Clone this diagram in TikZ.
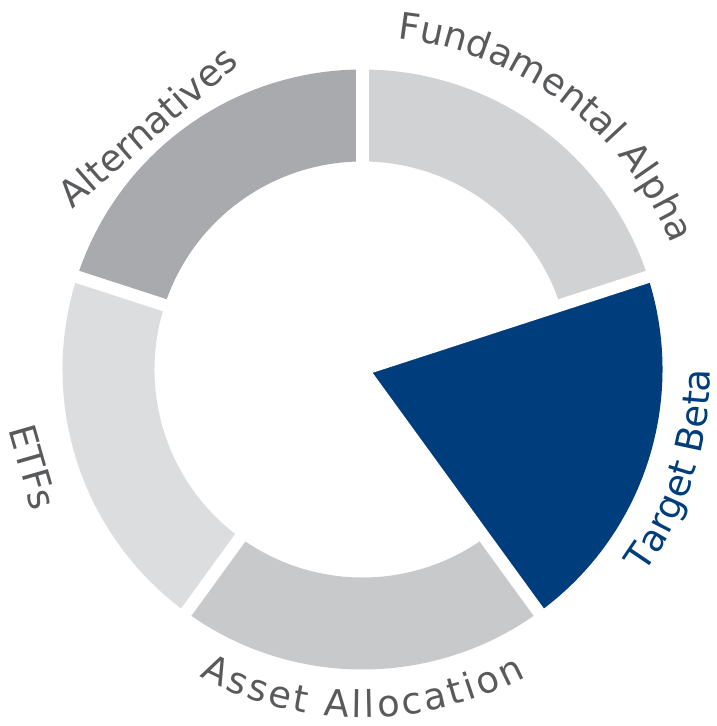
\documentclass[tikz,border=0pt]{standalone}
\usepackage{fontspec}
\usepackage{xcolor}
\usepackage{tikz}
\usetikzlibrary{decorations.text}
\newfontfamily\chartfont{DejaVu Sans}
\definecolor{navy}{HTML}{003D7C}
\definecolor{txtgray}{HTML}{595A5C}
\definecolor{alphagray}{HTML}{D1D2D4}
\definecolor{altgray}{HTML}{A9AAAD}
\definecolor{etfgray}{HTML}{DCDDDE}
\definecolor{assetgray}{HTML}{C8C9CB}
\newcommand{\lbl}{\chartfont\fontsize{21}{25}\selectfont}

\begin{document}
\begin{tikzpicture}[x=0.02cm,y=0.02cm]
	\tikzstyle{gap}=[draw=white,line width=0.25cm]
	\tikzstyle{word}=[font=\lbl,text=txtgray,inner sep=0pt]
	\useasboundingbox (-362.5,-356.5) rectangle (353.5,369.5);
	\coordinate (C) at (0,0);
	% ring pieces
	\fill[alphagray] (90:300) arc[start angle=90,end angle=18,radius=300] -- (18:208) arc[start angle=18,end angle=90,radius=208] -- cycle;
	\fill[altgray] (90:300) arc[start angle=90,end angle=162,radius=300] -- (162:208) arc[start angle=162,end angle=90,radius=208] -- cycle;
	\fill[etfgray] (162:300) arc[start angle=162,end angle=234,radius=300] -- (234:208) arc[start angle=234,end angle=162,radius=208] -- cycle;
	\fill[assetgray] (234:300) arc[start angle=234,end angle=306,radius=300] -- (306:208) arc[start angle=306,end angle=234,radius=208] -- cycle;
	\fill[navy] (C) -- (18:300) arc[start angle=18,end angle=-54,radius=300] -- cycle;
	% white gaps
	\draw[gap] (C) -- (90:320);
	\draw[gap] (C) -- (18:320);
	\draw[gap] (C) -- (-54:320);
	\draw[gap] (C) -- (-126:320);
	\draw[gap] (C) -- (162:320);
	% labels
	\path[decorate,decoration={text along path,text={|\lbl|Fundamental Alpha},text color=txtgray,text align=center}] (100:333) arc[start angle=100,end angle=6,radius=333];
	\path[decorate,decoration={text along path,text={|\lbl|Target Beta},text color=navy,text align=center}] (-55:348) arc[start angle=-55,end angle=19,radius=348];
	\path[decorate,decoration={text along path,text={|\lbl|Asset Allocation},text color=txtgray,text align={fit to path}}] (-118:348) arc[start angle=-118,end angle=-62,radius=348];
	\node[word,rotate=41,anchor=base] (ALT) at (-206.5,232.5) {Alternatives};
	\node[word,rotate=-74] (ETF) at (-329.5,-97.5) {ETFs};
\end{tikzpicture}
\end{document}
